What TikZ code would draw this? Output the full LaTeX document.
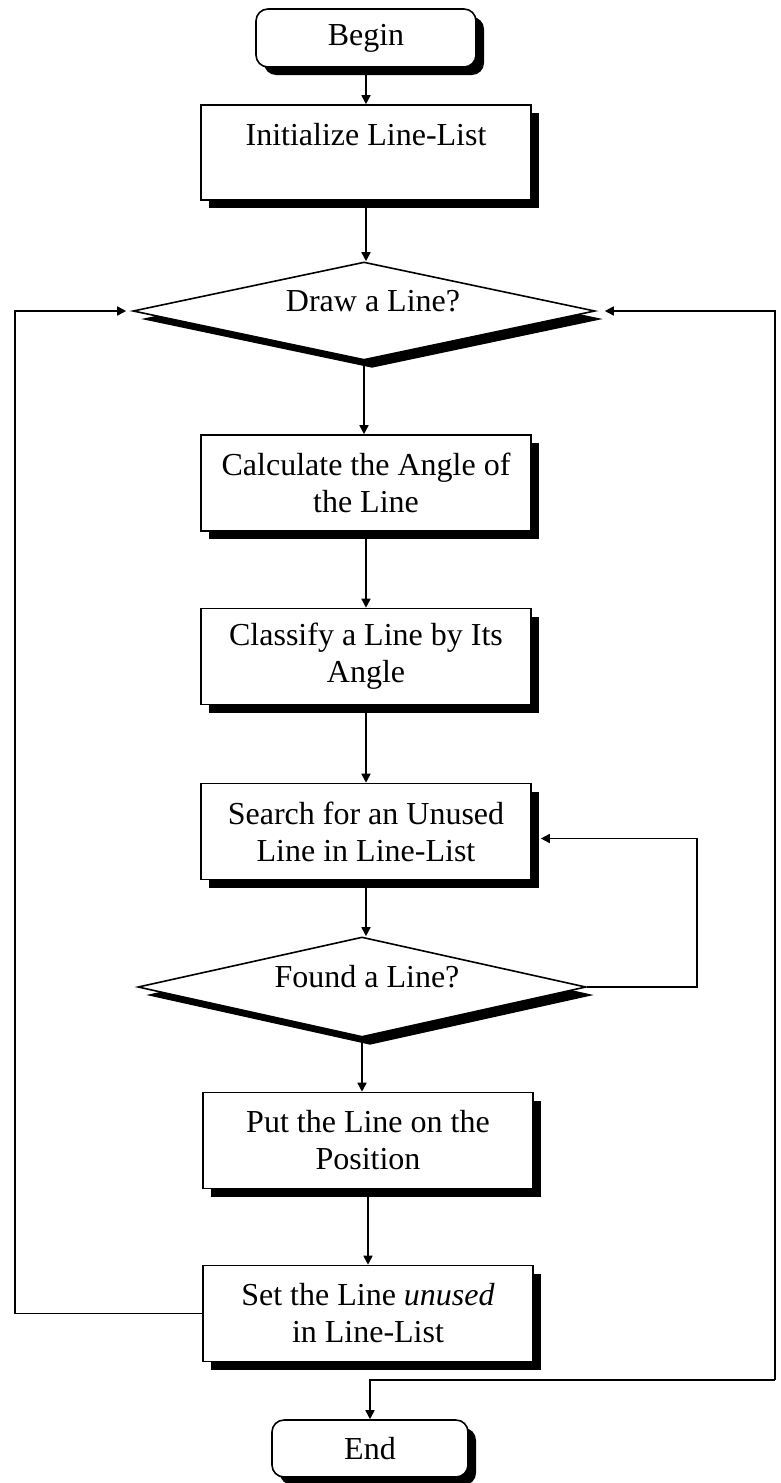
\documentclass[tikz,border=0pt]{standalone}
\usepackage{fontspec}
\setmainfont{Liberation Serif}
\usetikzlibrary{shapes.geometric,shadows,arrows.meta}
\begin{document}
\begin{tikzpicture}[x=1pt,y=-1pt,line width=1.6pt,
  every node/.style={font=\fontsize{32}{37}\selectfont},
  boxshadow/.style={drop shadow={shadow xshift=8pt,shadow yshift=-8pt,opacity=1,fill=black}},
  procbox/.style={draw,fill=white,boxshadow,minimum width=330pt,minimum height=96pt,
    align=center,inner sep=0pt},
  termbox/.style={draw,fill=white,boxshadow,rounded corners=12pt,minimum height=58pt,
    inner sep=0pt},
  decision/.style={draw,fill=white,boxshadow,diamond,inner sep=0pt,aspect=4.6},
  flow/.style={-{Triangle[length=9pt,width=9pt]}}
]
\useasboundingbox (0,0) rectangle (780,1483);

% main column
\node (begin) [termbox,minimum width=220pt] at (366,38) {Begin};
\node (init)  [procbox,minimum height=95pt] at (366,152.5) {Initialize Line-List\\\mbox{}};
\node (drawq) [decision,minimum width=462pt,minimum height=98pt] at (364,311) {};
\node (drawqtext) [anchor=base] at (373,311) {Draw a Line?};
\node (calc)  [procbox] at (366,483) {Calculate the Angle of\\the Line};
\node (class) [procbox] at (366,656.5) {Classify a Line by Its\\Angle};
\node (search)[procbox] at (366,831.5) {Search for an Unused\\Line in Line-List};
\node (found) [decision,minimum width=448pt,minimum height=100pt] at (362,987) {};
\node (foundtext) [anchor=base] at (367,987) {Found a Line?};
\node (put)   [procbox] at (368,1140.5) {Put the Line on the\\Position};
\node (set)   [procbox] at (368,1313.5) {Set the Line \textit{unused}\\in Line-List};
\node (end)   [termbox,minimum width=196pt,minimum height=57pt] at (370,1448.5) {End};

% loop corners
\coordinate (lcol) at (15,0);
\coordinate (fcol) at (697,987);
\coordinate (rc)   at (775,1380);

% straight flow
\draw[flow] (begin.south) -- (begin.south |- init.north);
\draw[flow] (init.south)  -- (init.south |- drawq.north);
\draw[flow] (drawq.south) -- (drawq.south |- calc.north);
\draw[flow] (calc.south)  -- (class.north);
\draw[flow] (class.south) -- (search.north);
\draw[flow] (search.south)-- (search.south |- found.north);
\draw[flow] (found.south) -- (found.south |- put.north);
\draw[flow] (put.south)   -- (set.north);

% search again while no line is found
\draw[flow] (found.east) -- (fcol) |- ([xshift=9pt,yshift=-7pt]search.east);

% back to the next line
\draw[flow] (set.west) -- (set.west -| lcol) |- ([xshift=-6pt]drawq.west);

% no more lines: finish
\draw[flow] (rc) |- ([xshift=9pt]drawq.east);
\draw[flow] (rc) -| (end.north);
\end{tikzpicture}
\end{document}
